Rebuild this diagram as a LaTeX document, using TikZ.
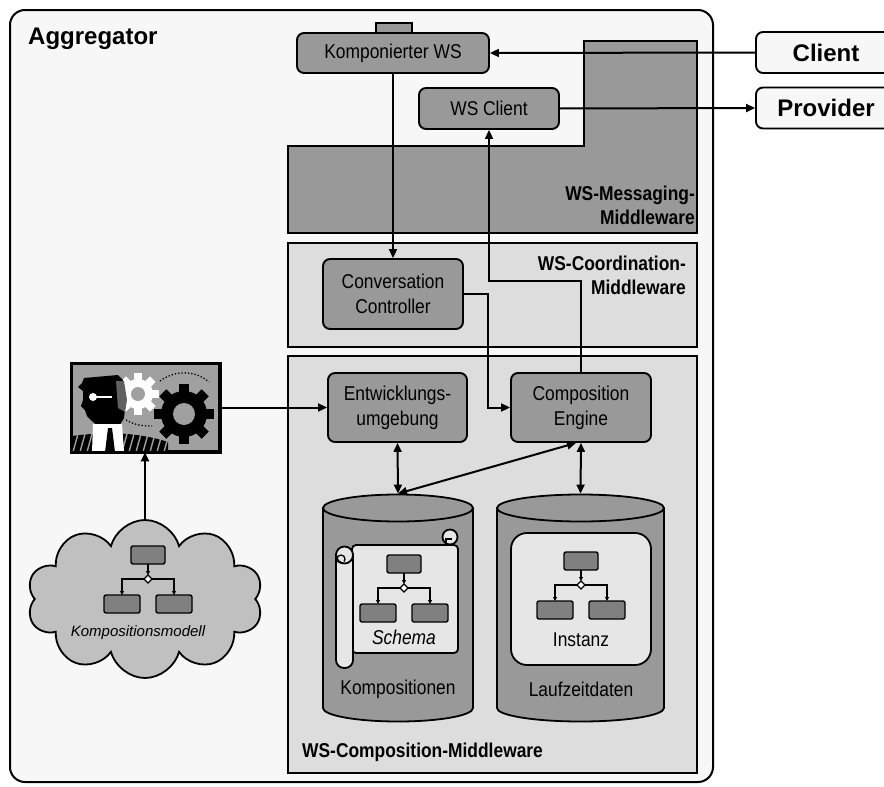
\documentclass[tikz,border=0pt]{standalone}
\usepackage{fontspec}
\setmainfont{Liberation Sans}
\newfontfamily\narrowsf{Liberation Sans}[FakeStretch=0.87]
\usepackage{tikz}
\usetikzlibrary{arrows.meta, positioning, shapes.geometric, shapes.symbols}
\definecolor{BG}{RGB}{247,247,247}
\definecolor{MG}{RGB}{153,153,153}
\definecolor{LG}{RGB}{221,221,221}
\definecolor{CG}{RGB}{192,192,192}
\definecolor{PG}{RGB}{230,230,230}
\definecolor{FG}{RGB}{128,128,128}
\definecolor{IG}{RGB}{160,160,160}
\definecolor{DP}{RGB}{96,96,96}

\begin{document}
\begin{tikzpicture}[x=1pt, y=-1pt,
  box/.style={draw, line width=1.9pt, rounded corners=7pt, fill=MG,
              align=center, inner sep=0pt,
              font=\narrowsf\fontsize{20}{25}\selectfont},
  ext/.style={draw, line width=1.9pt, rounded corners=7pt, fill=BG,
              minimum width=140pt, minimum height=41pt,
              font=\bfseries\fontsize{24}{28}\selectfont},
  layer/.style={draw, line width=1.8pt, fill=#1},
  lbl/.style={inner sep=0pt, align=right,
              font=\narrowsf\bfseries\fontsize{20}{24}\selectfont},
  txt/.style={inner sep=0pt, font=\narrowsf\fontsize{20}{24}\selectfont},
  arr/.style={-{Triangle[length=9pt, width=8pt]}, line width=2pt},
  dbl/.style={{Triangle[length=9pt, width=8pt]}-{Triangle[length=9pt, width=8pt]},
              line width=2pt},
  flowicon/.pic={
    \draw[fill=FG, line width=1.4pt, rounded corners=2pt] (-17,-33) rectangle (17,-15);
    \draw[fill=FG, line width=1.4pt, rounded corners=2pt] (-44,16) rectangle (-8,34);
    \draw[fill=FG, line width=1.4pt, rounded corners=2pt] (8,16) rectangle (44,34);
    \draw[line width=1.1pt, -{Triangle[length=4pt, width=4pt]}] (0,-15) -- (0,-4);
    \draw[line width=1.1pt, -{Triangle[length=4pt, width=4pt]}] (-4,0) -| (-26,16);
    \draw[line width=1.1pt, -{Triangle[length=4pt, width=4pt]}] (4,0) -| (26,16);
    \draw[fill=white, line width=1.1pt] (0,-4) -- (4,0) -- (0,4) -- (-4,0) -- cycle;
  }
]
\useasboundingbox (0,0) rectangle (884,787);

% Aggregator frame and middleware layers
\draw[line width=2pt, fill=BG, rounded corners=15pt] (10,10) rectangle (713,782);
\draw[layer=MG] (288,146) -- (584,146) -- (584,41) -- (697,41) -- (697,233) -- (288,233) -- cycle;
\draw[layer=LG] (288,243) rectangle (697,347);
\draw[layer=LG] (288,356) rectangle (697,773);

\node[inner sep=0pt, anchor=base west, font=\bfseries\fontsize{24}{28}\selectfont]
  (aggr) at (28,44) {Aggregator};
\node[lbl, anchor=east] (msg) at (695,205) {WS-Messaging-\\Middleware};
\node[lbl, anchor=east] (coord) at (686,275) {WS-Coordination-\\Middleware};
\node[lbl, anchor=west] (comp) at (302,752) {WS-Composition-Middleware};

% Components
\draw[line width=1.8pt, fill=MG] (376,23) rectangle (412,34);
\node[box, minimum width=192pt, minimum height=40pt] (kws) at (393,53) {Komponierter WS};
\node[box, minimum width=140pt, minimum height=41pt] (wsc) at (489,108.5) {WS Client};
\node[box, minimum width=140pt, minimum height=70pt] (conv) at (393,294) {Conversation\\Controller};
\node[box, minimum width=139pt, minimum height=69pt] (entw) at (397.5,407.5) {Entwicklungs-\\umgebung};
\node[box, minimum width=140pt, minimum height=69pt] (engine) at (581,407.5) {Composition\\Engine};
\node[ext] (client) at (826,52.5) {Client};
\node[ext] (provider) at (826,108) {Provider};

% Designer picture
\node[draw, line width=2.5pt, fill=IG, minimum width=147pt, minimum height=87pt,
      inner sep=0pt] (img) at (145.5,407.5) {};
\begin{scope}
  \clip (img.south west) rectangle (img.north east);
  \fill (72,436) .. controls (110,431) and (140,433) .. (168,442) -- (168,452) -- (72,452) -- cycle;
  \foreach \i in {0,...,14}
    \draw[IG, line width=1.4pt] (66+\i*7,452) -- ++(5,-18);
  \begin{scope}[shift={(138,394)}]
    \fill[white] (0,0) circle (15);
    \foreach \a in {0,45,90,135}
      \fill[white, rotate=\a] (-4,-21) rectangle (4,21);
    \fill[IG] (0,0) circle (7);
  \end{scope}
  \begin{scope}[shift={(184,414)}]
    \fill (0,0) circle (23);
    \foreach \a in {0,45,90,135}
      \fill[rotate=\a] (-5,-30) rectangle (5,30);
    \fill[IG] (0,0) circle (11);
  \end{scope}
  \draw[dotted, line width=1.3pt] (160,381) .. controls (175,370) and (195,370) .. (209,382);
  \draw[dotted, line width=1.3pt] (126,420) .. controls (135,425) and (142,426) .. (152,426);
  \fill (84,378) -- (118,375) -- (123,380) -- (126,400) -- (124,418) -- (118,428) -- (100,428)
    -- (92,421) -- (87,416) -- (85,410) -- (81,406) -- (83,400) -- (83,391) -- (78,387)
    -- (82,383) -- cycle;
  \fill[DP] (116,381) -- (124,381) -- (127,400) -- (125,412) -- (118,408) -- (117,395) -- cycle;
  \fill[white] (93,424) -- (122,424) -- (124,452) -- (92,452) -- cycle;
  \fill (108,428) -- (112,428) -- (115,452) -- (105,452) -- cycle;
  \fill[white] (93,397) circle (4);
  \draw[white, line width=1.3pt] (93,397) -- (112,397);
\end{scope}
\draw[line width=2.5pt] (img.south west) rectangle (img.north east);

% Composition model cloud
\node[cloud, cloud puffs=10, aspect=1.5, draw, line width=1.8pt, fill=CG,
      minimum width=236pt, minimum height=158pt] (cloud) at (145,599) {};
\pic at (148,579) {flowicon};
\node[inner sep=0pt, font=\itshape\fontsize{15}{18}\selectfont] (model) at (138,633) {Kompositionsmodell};

% Repositories
\draw[line width=1.8pt, fill=MG] (323,508) -- (323,708)
  arc[start angle=180, end angle=0, x radius=75, y radius=13.5] -- (473,508) -- cycle;
\node[ellipse, draw, line width=1.8pt, fill=MG, minimum width=150pt, minimum height=27pt,
      inner sep=0pt] (kompos) at (398,508) {};
\draw[line width=1.8pt, fill=MG] (497,508) -- (497,708)
  arc[start angle=180, end angle=0, x radius=83.5, y radius=13.5] -- (664,508) -- cycle;
\node[ellipse, draw, line width=1.8pt, fill=MG, minimum width=167pt, minimum height=27pt,
      inner sep=0pt] (laufz) at (580.5,508) {};

% Schema scroll
\draw[line width=1.8pt, fill=PG, rounded corners=4pt] (352,545) -- (458,545) -- (458,653) -- (352,653) -- cycle;
\draw[line width=1.8pt, fill=PG] (450,537) circle (7.5);
\draw[line width=1.3pt] (446,545) -- (446,539) -- (452,539);
\draw[line width=1.8pt, fill=PG, rounded corners=8pt] (353,553) -- (353,668) -- (336,668) -- (336,553);
\draw[line width=1.8pt, fill=PG] (344.5,555) circle (8.5);
\draw[line width=1.3pt] (341,563) arc[start angle=90, end angle=400, radius=4];
\pic at (404,588) {flowicon};
\node[txt, font=\narrowsf\itshape\fontsize{20}{24}\selectfont] (schema) at (404,637) {Schema};

% Instance box
\node[draw, line width=1.8pt, fill=PG, rounded corners=16pt, minimum width=140pt,
      minimum height=132pt] (inst) at (581,599) {};
\pic at (581,585) {flowicon};
\node[txt] (instanz) at (581,640) {Instanz};

\node[txt] (komplbl) at (398,689) {Kompositionen};
\node[txt] (laufzlbl) at (581,689) {Laufzeitdaten};

% Connectors
\draw[arr] (client.west) -- (kws.east);
\draw[arr] (wsc.east) -- (provider.west);
\draw[arr] (kws.south) -- (conv.north);
\draw[arr] (engine.north) -- ++(0,-91) -| (wsc.south);
\draw[arr] (conv.east) -- ++(24,0) |- (engine.west);
\draw[arr] (img.east) -- (entw.west);
\draw[arr] (cloud.north) -- (cloud.north |- img.south);
\draw[dbl] (entw.south) -- (kompos.north);
\draw[dbl] (kompos.north) -- ([xshift=-5pt]engine.south);
\draw[dbl] (engine.south) -- (laufz.north);
\end{tikzpicture}
\end{document}
